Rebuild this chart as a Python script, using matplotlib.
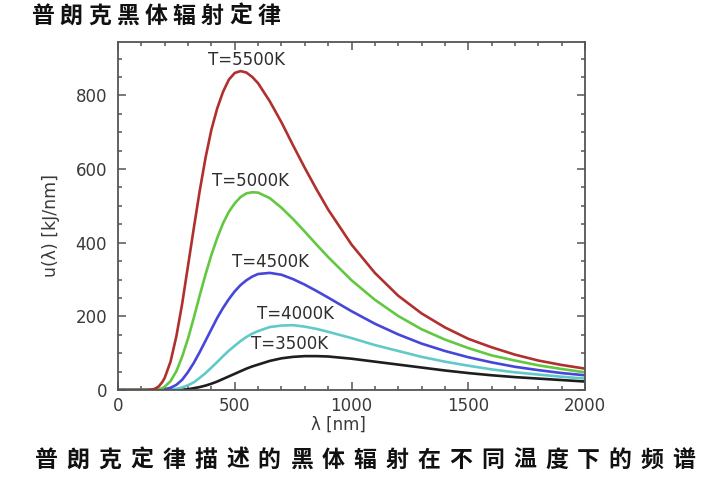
import matplotlib
matplotlib.use('Agg')
import matplotlib.pyplot as plt
from matplotlib.ticker import MultipleLocator

# ---- data ----
wavelength_nm = [0, 100, 125, 150, 160, 175, 190, 200, 225, 250, 275, 300, 325,
                 350, 375, 400, 425, 450, 475, 500, 525, 550, 575,
                 600, 650, 700, 750, 800, 850, 900, 1000, 1100, 1200,
                 1300, 1400, 1500, 1600, 1700, 1800, 1900, 2000]

u_5500 = [0, 0, 0, 2, 4, 10, 22, 33, 77, 146, 235, 338, 441,
          541, 631, 707, 765, 810, 843, 861, 866, 862, 850,
          833, 784, 727, 664, 603, 545, 490, 395, 318, 256,
          208, 170, 139, 116, 96, 80, 68, 58]
u_5000 = [0, 0, 0, 0, 1, 2, 5, 9, 24, 51, 91, 140, 197,
          257, 314, 367, 413, 453, 484, 507, 524, 534, 537,
          536, 521, 495, 464, 430, 395, 361, 298, 245, 201,
          165, 137, 114, 94, 80, 67, 57, 48]
u_4500 = [0, 0, 0, 0, 0, 0, 1, 2, 6, 14, 28, 49, 74,
          103, 134, 165, 196, 223, 247, 268, 285, 298, 308,
          315, 318, 313, 301, 286, 269, 251, 214, 180, 151,
          126, 106, 89, 75, 63, 54, 46, 40]
u_4000 = [0, 0, 0, 0, 0, 0, 0, 0, 1, 3, 7, 13, 21,
          33, 46, 61, 76, 92, 107, 120, 133, 144, 153,
          160, 171, 175, 176, 172, 166, 158, 141, 122, 106,
          90, 77, 66, 56, 48, 42, 36, 31]
u_3500 = [0, 0, 0, 0, 0, 0, 0, 0, 0, 0, 1, 2, 5,
          8, 12, 17, 23, 30, 37, 44, 51, 58, 64,
          69, 79, 86, 90, 92, 92, 91, 85, 77, 69,
          61, 53, 46, 40, 35, 31, 27, 23]

series_labels = ["T=3500K", "T=4000K", "T=4500K", "T=5000K", "T=5500K"]
series_values = [u_3500, u_4000, u_4500, u_5000, u_5500]
series_colors = ["#1e1e1e", "#62c9c9", "#4646d8", "#62c842", "#b0302e"]
# label offsets (points) relative to each curve's peak
label_offsets = [(-11, 9), (1.5, 8), (0.5, 7.8), (-1, 8.3), (4, 8)]

title_text = "普朗克黑体辐射定律"
caption_text = "普朗克定律描述的黑体辐射在不同温度下的频谱"
x_label = "λ [nm]"
y_label = "u(λ) [kJ/nm]"

W, H = 720, 498
fig = plt.figure(figsize=(W / 100, H / 100), dpi=100)
fig.patch.set_facecolor("white")

ax = fig.add_axes([118 / W, 1 - 390 / H, 467 / W, 348 / H])

for vals, col in zip(series_values, series_colors):
    ax.plot(wavelength_nm, vals, color=col, lw=1.9, solid_capstyle="round",
            solid_joinstyle="round")

for lab, vals, col, off in zip(series_labels, series_values, series_colors, label_offsets):
    i = max(range(len(vals)), key=lambda k: vals[k])
    ax.annotate(lab, xy=(wavelength_nm[i], vals[i]), xytext=off,
                textcoords="offset points", ha="center", va="center",
                fontsize=12, color="#2e2e2e", family="DejaVu Sans")

ax.set_xlim(0, 2000)
ax.set_ylim(0, 945)
ax.xaxis.set_major_locator(MultipleLocator(500))
ax.xaxis.set_minor_locator(MultipleLocator(100))
ax.yaxis.set_major_locator(MultipleLocator(200))
ax.yaxis.set_minor_locator(MultipleLocator(50))
ax.tick_params(which="both", direction="in", top=True, right=True,
               color="#555555", width=1.1)
ax.tick_params(which="major", length=6, labelsize=12, labelcolor="#3a3a3a")
ax.tick_params(which="minor", length=3)
ax.tick_params(axis="x", which="major", pad=5)
ax.tick_params(axis="y", which="major", pad=8)
for s in ax.spines.values():
    s.set_color("#555555")
    s.set_linewidth(1.3)

ax.set_xlabel(x_label, fontsize=12, color="#3a3a3a")
ax.xaxis.set_label_coords(0.473, -0.075)
ax.set_ylabel(y_label, fontsize=12.5, color="#3a3a3a")
ax.yaxis.set_label_coords(-0.125, 0.474)

cjk = ["Noto Sans CJK SC", "DejaVu Sans"]

def spaced_text(text, x0, pitch, y, size):
    for k, ch in enumerate(text):
        fig.text((x0 + k * pitch) / W, 1 - y / H, ch, ha="center", va="center",
                 fontsize=size, fontweight="bold", family=cjk, color="#111111")

spaced_text(title_text, 43, 28.2, 16.5, 16.5)
spaced_text(caption_text, 46, 31.9, 460, 16.5)

fig.savefig("out.png", dpi=100, facecolor="white")
